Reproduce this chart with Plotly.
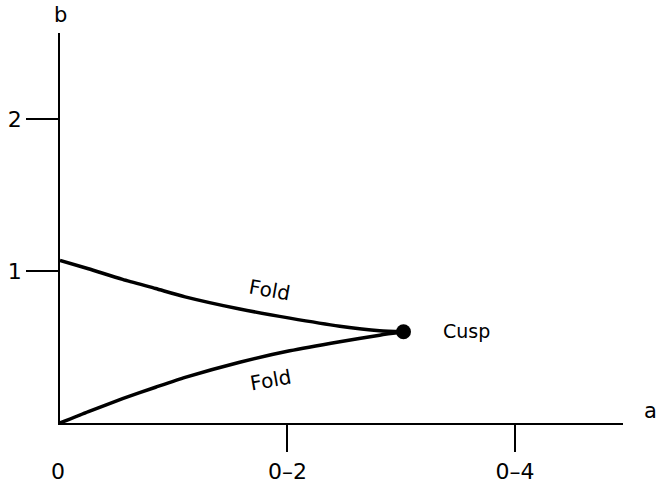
import plotly.graph_objects as go

# Fold curves (upper and lower branches) meeting at the cusp
a_upper = [0, 0.025, 0.055, 0.084, 0.110, 0.158, 0.202, 0.246, 0.281, 0.302]
b_upper = [1.07, 1.015, 0.945, 0.885, 0.83, 0.75, 0.69, 0.637, 0.607, 0.60]
a_lower = [0, 0.025, 0.055, 0.084, 0.110, 0.158, 0.202, 0.246, 0.281, 0.302]
b_lower = [0, 0.075, 0.16, 0.235, 0.30, 0.40, 0.475, 0.535, 0.578, 0.60]
cusp_a = [0.302]
cusp_b = [0.60]

x_tickvals = [0.2, 0.4]
x_ticktext = ["0\u20132", "0\u20134"]
y_tickvals = [1, 2]
y_ticktext = ["1", "2"]

FONT = "DejaVu Sans, Liberation Sans, Arial, sans-serif"

W, H = 659, 484
# plot area in screen pixels: left 60, right 623, top 33, bottom 423
ML, MT = 60, 33
MR = W - 623
MB = H - 423

fig = go.Figure()
for xa, yb in [(a_upper, b_upper), (a_lower, b_lower)]:
    fig.add_trace(go.Scatter(x=xa, y=yb, mode="lines",
                             line=dict(color="black", width=3.5, shape="spline", smoothing=0.6),
                             showlegend=False, hoverinfo="skip"))
fig.add_trace(go.Scatter(x=cusp_a, y=cusp_b, mode="markers",
                         marker=dict(color="black", size=15),
                         showlegend=False, hoverinfo="skip", cliponaxis=False))


def px_x(p):
    return (p - ML) / (W - ML - MR)


def px_y(p):
    return (H - MB - p) / (H - MT - MB)


annotations = [
    dict(xref="x", yref="y", x=0.357, y=0.605, text="Cusp", font=dict(size=19)),
    dict(xref="x", yref="y", x=0.1846, y=0.875, text="Fold", font=dict(size=20), textangle=10),
    dict(xref="x", yref="y", x=0.1855, y=0.283, text="Fold", font=dict(size=20), textangle=-10),
    dict(xref="paper", yref="paper", x=px_x(60), y=px_y(15), text="b", font=dict(size=21)),
    dict(xref="paper", yref="paper", x=px_x(651), y=px_y(411), text="a", font=dict(size=21)),
    dict(xref="paper", yref="paper", x=px_x(58), y=px_y(471), text="0", font=dict(size=22)),
]
for an in annotations:
    an.update(showarrow=False, xanchor="center", yanchor="middle")
    an["font"]["family"] = FONT
    an["font"]["color"] = "black"

fig.update_layout(
    width=W, height=H,
    margin=dict(l=ML, r=MR, t=MT, b=MB, pad=0),
    paper_bgcolor="white", plot_bgcolor="white",
    font=dict(family=FONT, color="black"),
    annotations=annotations,
    xaxis=dict(range=[0, 0.495], showgrid=False, zeroline=False, automargin=False,
               showline=True, linecolor="black", linewidth=1.5,
               ticks="outside", ticklen=27, tickwidth=1.5, tickcolor="black",
               ticklabelstandoff=1,
               tickvals=x_tickvals, ticktext=x_ticktext,
               tickfont=dict(size=22, family=FONT, color="black")),
    yaxis=dict(range=[0, 2.566], showgrid=False, zeroline=False, automargin=False,
               showline=True, linecolor="black", linewidth=1.5,
               ticks="outside", ticklen=32, tickwidth=1.5, tickcolor="black",
               tickvals=y_tickvals, ticktext=y_ticktext,
               tickfont=dict(size=22, family=FONT, color="black")),
)

fig.write_html("out.html",
               config={"displayModeBar": False},
               post_script="document.body.style.margin='0';document.body.style.overflow='hidden';")
